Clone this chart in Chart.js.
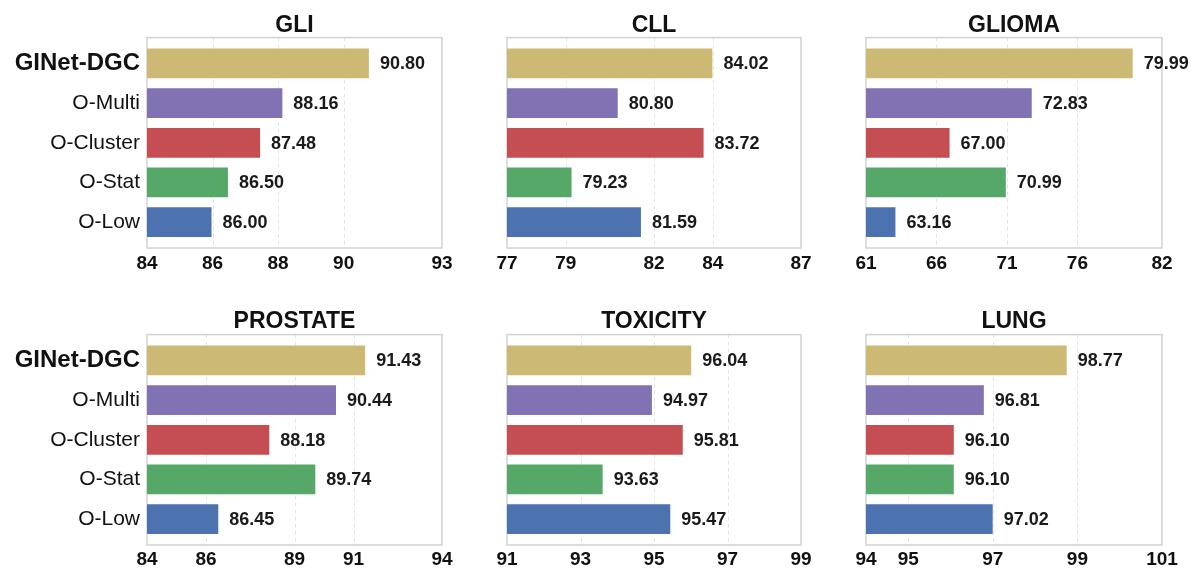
<!DOCTYPE html>
<html>
<head>
<meta charset="utf-8">
<script src="https://cdn.jsdelivr.net/npm/chart.js@4.4.1/dist/chart.umd.min.js"></script>
<style>
  html, body { margin: 0; padding: 0; background: #fff; }
  #wrap { position: relative; width: 1196px; height: 574px; overflow: hidden; }
  canvas { position: absolute; }
</style>
</head>
<body>
<div id="wrap"></div>
<script>
// methods and colours (same order in every panel)
const categories = ['GINet-DGC', 'O-Multi', 'O-Cluster', 'O-Stat', 'O-Low'];
const barColors = ['#ccb974', '#8172b3', '#c44e52', '#55a868', '#4c72b0'];

const titles = ['GLI', 'CLL', 'GLIOMA', 'PROSTATE', 'TOXICITY', 'LUNG'];

const gliValues      = [90.80, 88.16, 87.48, 86.50, 86.00];
const cllValues      = [84.02, 80.80, 83.72, 79.23, 81.59];
const gliomaValues   = [79.99, 72.83, 67.00, 70.99, 63.16];
const prostateValues = [91.43, 90.44, 88.18, 89.74, 86.45];
const toxicityValues = [96.04, 94.97, 95.81, 93.63, 95.47];
const lungValues     = [98.77, 96.81, 96.10, 96.10, 97.02];

const gliTicks      = [84, 86, 88, 90, 93];
const cllTicks      = [77, 79, 82, 84, 87];
const gliomaTicks   = [61, 66, 71, 76, 82];
const prostateTicks = [84, 86, 89, 91, 94];
const toxicityTicks = [91, 93, 95, 97, 99];
const lungTicks     = [94, 95, 97, 99, 101];

const allValues = [gliValues, cllValues, gliomaValues, prostateValues, toxicityValues, lungValues];
const allTicks = [gliTicks, cllTicks, gliomaTicks, prostateTicks, toxicityTicks, lungTicks];

const FONT = '"Liberation Sans", Arial, Helvetica, sans-serif';

// panel placement
const cols = [
  { left: 0,   width: 460, yWidth: 147, padRight: 18 },
  { left: 460, width: 360, yWidth: 47,  padRight: 19 },
  { left: 820, width: 376, yWidth: 46,  padRight: 34 }
];
const rows = [
  { top: 0,   height: 290, titleTop: 12, titleBottom: 4, xHeight: 48, tickPad: 10 },
  { top: 290, height: 284, titleTop: 18, titleBottom: 5, xHeight: 35, tickPad: 9 }
];

// frame + dashed grid, drawn a bit outside the bar band
const framePlugin = {
  id: 'frame',
  beforeDatasetsDraw(chart) {
    const { ctx, chartArea: a, scales: { x } } = chart;
    const top = a.top - 6, bottom = a.bottom + 6;
    ctx.save();
    ctx.strokeStyle = '#e4e4e4';
    ctx.lineWidth = 1;
    ctx.setLineDash([4, 3]);
    x.ticks.slice(1, -1).forEach(t => {
      const px = Math.round(x.getPixelForValue(t.value)) + 0.5;
      ctx.beginPath();
      ctx.moveTo(px, top);
      ctx.lineTo(px, bottom);
      ctx.stroke();
    });
    ctx.setLineDash([]);
    ctx.strokeStyle = '#d2d2d2';
    ctx.lineWidth = 1.5;
    ctx.strokeRect(a.left, top, a.right - a.left, bottom - top);
    ctx.restore();
  }
};

// value text to the right of each bar
const valueLabels = {
  id: 'valueLabels',
  afterDatasetsDraw(chart) {
    const { ctx } = chart;
    const ds = chart.data.datasets[0];
    ctx.save();
    ctx.font = 'bold 18px ' + FONT;
    ctx.fillStyle = '#1a1a1a';
    ctx.textAlign = 'left';
    ctx.textBaseline = 'middle';
    chart.getDatasetMeta(0).data.forEach((bar, i) => {
      ctx.fillText(ds.data[i].toFixed(2), bar.x + 10, bar.y + 1);
    });
    ctx.restore();
  }
};

const wrap = document.getElementById('wrap');

titles.forEach((title, p) => {
  const col = cols[p % 3];
  const row = rows[Math.floor(p / 3)];
  const ticks = allTicks[p];

  const canvas = document.createElement('canvas');
  canvas.width = col.width;
  canvas.height = row.height;
  canvas.style.left = col.left + 'px';
  canvas.style.top = row.top + 'px';
  wrap.appendChild(canvas);

  new Chart(canvas, {
    type: 'bar',
    data: {
      labels: categories,
      datasets: [{
        data: allValues[p],
        backgroundColor: barColors,
        borderColor: 'rgba(255,255,255,0.35)',
        borderWidth: 1,
        borderSkipped: false,
        barPercentage: 0.8,
        categoryPercentage: 1.0
      }]
    },
    options: {
      indexAxis: 'y',
      responsive: false,
      devicePixelRatio: 1,
      animation: false,
      layout: { padding: { left: 0, right: col.padRight, top: 0, bottom: 0 } },
      plugins: {
        legend: { display: false },
        tooltip: { enabled: false },
        title: {
          display: true,
          text: title,
          fullSize: false,
          color: '#111',
          font: { family: FONT, size: 23, weight: 'bold' },
          padding: { top: row.titleTop, bottom: row.titleBottom }
        }
      },
      scales: {
        x: {
          min: ticks[0],
          max: ticks[ticks.length - 1],
          afterBuildTicks: scale => { scale.ticks = ticks.map(v => ({ value: v })); },
          afterFit: scale => {
            scale.height = row.xHeight;
            scale.paddingLeft = 0;
            scale.paddingRight = 0;
          },
          grid: { display: false, drawTicks: false },
          border: { display: false },
          ticks: {
            padding: row.tickPad,
            autoSkip: false,
            maxRotation: 0,
            color: '#111',
            font: { family: FONT, size: 19, weight: 'bold' },
            callback: v => String(v)
          }
        },
        y: {
          afterFit: scale => { scale.width = col.yWidth; },
          grid: { display: false, drawTicks: false },
          border: { display: false },
          ticks: {
            display: p % 3 === 0,
            padding: 7,
            color: '#111',
            font: ctx => ctx.index === 0
              ? { family: FONT, size: 24, weight: 'bold' }
              : { family: FONT, size: 21, weight: 'normal' }
          }
        }
      }
    },
    plugins: [framePlugin, valueLabels]
  });
});
</script>
</body>
</html>
